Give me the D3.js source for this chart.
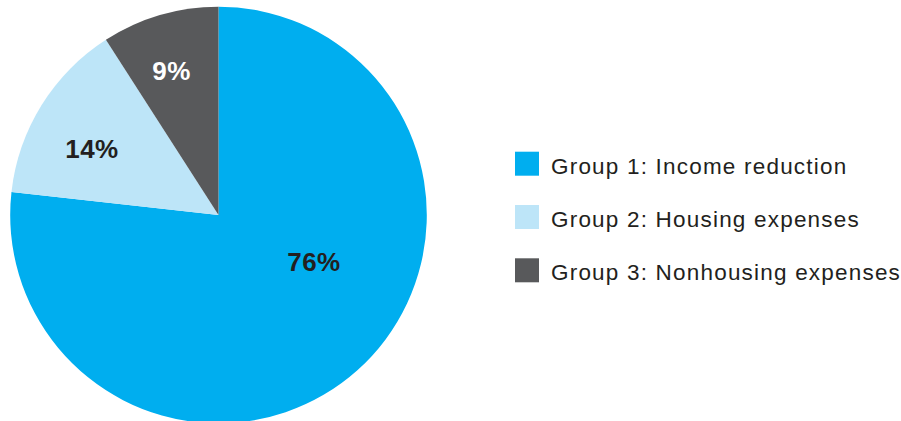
<!DOCTYPE html>
<html>
<head>
<meta charset="utf-8">
<script src="https://cdn.jsdelivr.net/npm/d3@7/dist/d3.min.js"></script>
<style>
  html, body { margin: 0; padding: 0; background: #ffffff; }
  svg { display: block; }
  text { font-family: "Liberation Sans", Arial, Helvetica, sans-serif; }
</style>
</head>
<body>
<svg id="chart" width="901" height="421"></svg>
<script>
// Share of borrowers by hardship group
const categories = ["Group 1: Income reduction", "Group 2: Housing expenses", "Group 3: Nonhousing expenses"];
const values = [76, 14, 9];
const valueLabels = ["76%", "14%", "9%"];
const colors = ["#00aeef", "#bde5f8", "#58595b"];
const labelColors = ["#231f20", "#231f20", "#ffffff"];

const W = 901, H = 421;
const cx = 218.5, cy = 215, R = 208.3;

// label placement inside each slice: polar position (degrees clockwise from 12 o'clock, fraction of radius)
const labelPolar = [[116, 0.51], [297.5, 0.685], [342, 0.73]];

const svg = d3.select("#chart");

const pie = d3.pie().sort(null).value(d => d)(values);
const arc = d3.arc().innerRadius(0).outerRadius(R);

const g = svg.append("g").attr("transform", `translate(${cx},${cy})`);

g.selectAll("path.slice")
  .data(pie)
  .join("path")
  .attr("class", "slice")
  .attr("d", arc)
  .attr("fill", (d, i) => colors[i]);

g.selectAll("text.pct")
  .data(pie)
  .join("text")
  .attr("class", "pct")
  .attr("x", (d, i) => Math.sin(labelPolar[i][0] * Math.PI / 180) * labelPolar[i][1] * R)
  .attr("y", (d, i) => -Math.cos(labelPolar[i][0] * Math.PI / 180) * labelPolar[i][1] * R)
  .attr("dy", "0.36em")
  .attr("text-anchor", "middle")
  .attr("font-size", 26)
  .attr("font-weight", "bold")
  .attr("letter-spacing", 0.5)
  .attr("fill", (d, i) => labelColors[i])
  .text((d, i) => valueLabels[i]);

// legend
const legendY = d3.scalePoint().domain(categories).range([163.7, 270.3]);
const legend = svg.append("g").attr("class", "legend");
const items = legend.selectAll("g")
  .data(categories)
  .join("g")
  .attr("transform", d => `translate(515,${legendY(d)})`);

items.append("rect")
  .attr("x", 0).attr("y", -12)
  .attr("width", 24).attr("height", 24)
  .attr("fill", (d, i) => colors[i]);

items.append("text")
  .attr("x", 36)
  .attr("y", 10)
  .attr("font-size", 22.5)
  .attr("letter-spacing", 1.2)
  .attr("fill", "#231f20")
  .text(d => d);
</script>
</body>
</html>
